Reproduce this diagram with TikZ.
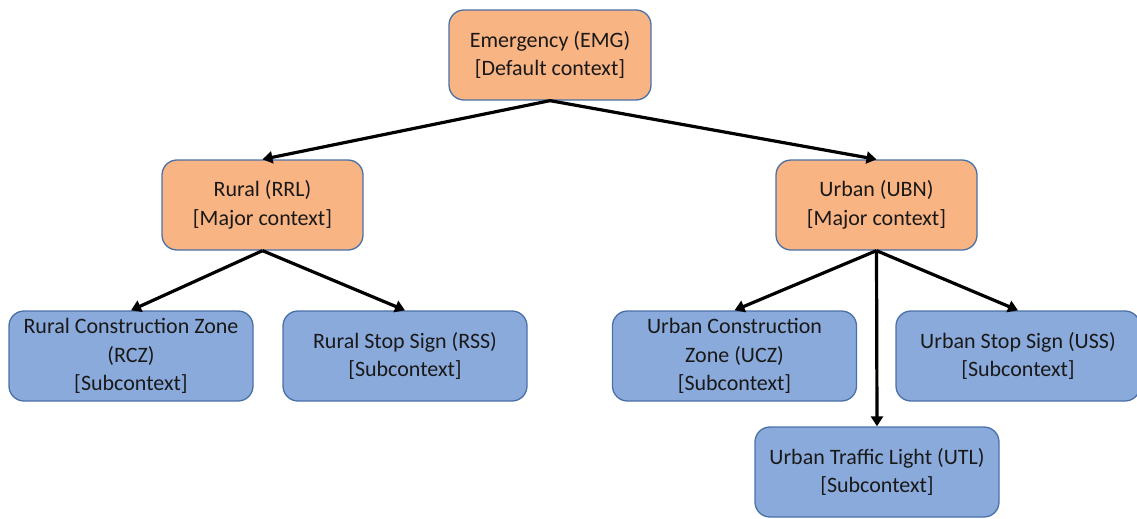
\documentclass[tikz,border=0pt]{standalone}
\usepackage{fontspec}
\setmainfont{Carlito}
\usetikzlibrary{arrows.meta}
\definecolor{ctxorange}{HTML}{F9B483}
\definecolor{ctxblue}{HTML}{8BAADC}
\definecolor{ctxedge}{HTML}{4A70A8}
\begin{document}
\begin{tikzpicture}[x=1pt,y=-1pt,
  ctxbox/.style={draw=ctxedge, line width=1.3pt, rounded corners=15pt,
    inner sep=0pt, align=center, text=black!90,
    font=\fontsize{22}{28.5}\selectfont},
  major/.style={ctxbox, fill=ctxorange, minimum width=201pt, minimum height=90pt},
  sub/.style={ctxbox, fill=ctxblue, minimum width=244pt, minimum height=90pt},
  link/.style={line width=3.2pt, -{Triangle[length=10pt,width=12pt]}}]
\useasboundingbox (0,0) rectangle (1137,519);

% default and major contexts
\node[major, minimum width=202pt] (emg) at (550,55) {Emergency (EMG)\\{[Default context]}};
\node[major] (rrl) at (262.5,205) {Rural (RRL)\\{[Major context]}};
\node[major] (ubn) at (876.5,205) {Urban (UBN)\\{[Major context]}};

% subcontexts
\node[sub] (rcz) at (131,356) {Rural Construction Zone\\(RCZ)\\{[Subcontext]}};
\node[sub] (rss) at (405,356) {Rural Stop Sign (RSS)\\{[Subcontext]}};
\node[sub] (ucz) at (734.5,356) {Urban Construction\\Zone (UCZ)\\{[Subcontext]}};
\node[sub] (uss) at (1018,356) {Urban Stop Sign (USS)\\{[Subcontext]}};
\node[sub] (utl) at (877,472) {Urban Traffic Light (UTL)\\{[Subcontext]}};

% hierarchy links
\draw[link] (emg.south) -- (rrl.north);
\draw[link] (emg.south) -- (ubn.north);
\draw[link] (rrl.south) -- (rcz.north);
\draw[link] (rrl.south) -- (rss.north);
\draw[link] (ubn.south) -- (ucz.north);
\draw[link] (ubn.south) -- (uss.north);
\draw[link] (ubn.south) -- (utl.north);
\end{tikzpicture}
\end{document}
